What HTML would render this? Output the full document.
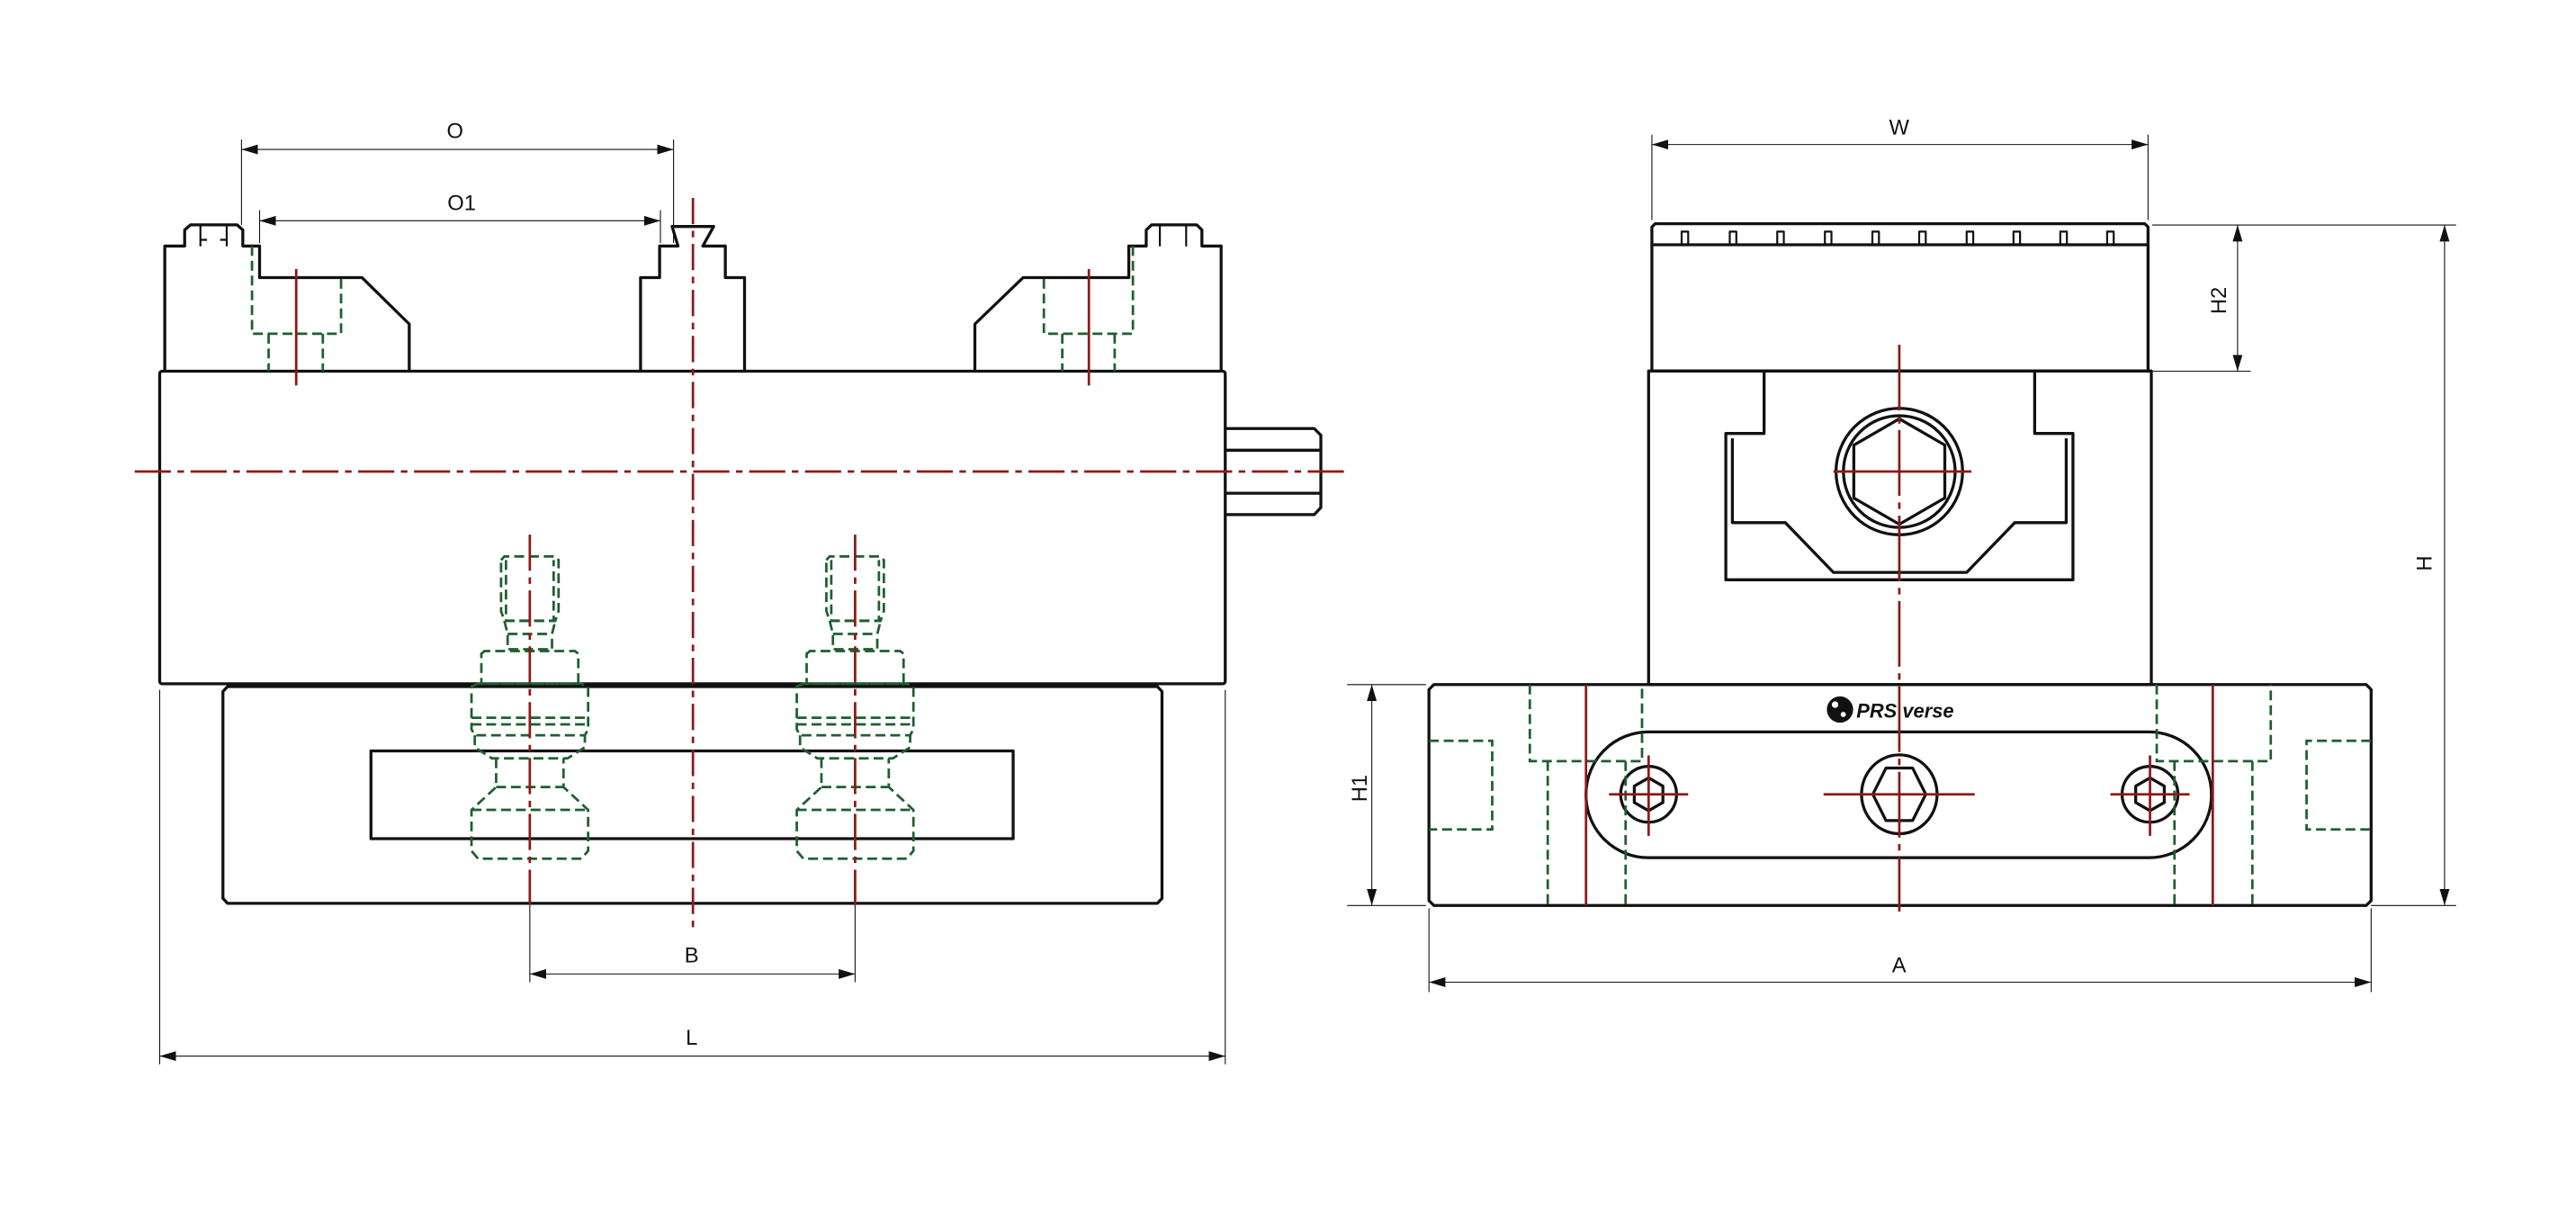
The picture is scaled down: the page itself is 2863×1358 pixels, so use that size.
<!DOCTYPE html>
<html><head><meta charset="utf-8"><style>
html,body{margin:0;padding:0;background:#fff;}
svg{display:block;}
text{font-family:"Liberation Sans",sans-serif;font-size:13px;fill:#111;}
</style></head><body>
<svg width="2863" height="1358" viewBox="0 0 1568 744" preserveAspectRatio="none" xmlns="http://www.w3.org/2000/svg">
<defs>
<marker id="a" viewBox="0 0 10 6" refX="10" refY="3" markerWidth="10" markerHeight="6" orient="auto" markerUnits="userSpaceOnUse"><path d="M0,0 L10,3 L0,6z" fill="#111"/></marker>
<marker id="as" viewBox="0 0 10 6" refX="0" refY="3" markerWidth="10" markerHeight="6" orient="auto" markerUnits="userSpaceOnUse"><path d="M10,0 L0,3 L10,6z" fill="#111"/></marker>
</defs>
<rect width="1568" height="744" fill="#fff"/>
<g fill="none" stroke="#111" stroke-width="1.8" stroke-linejoin="round">
<path d="M100.3,226 V149.8 H112.4 V140 L116,136.9 H144.3 L147.8,140 V149.8 H158 V169 H220.3 L249.1,197.3 V226"/>
<path d="M122,137 V150 M138,137 V150 M122,146 H126 M134,146 H138" stroke-width="1.2"/>
<path d="M389.9,226 V169 H401.5 V149.8 H412.7 L409.1,137.9 H434.4 L427.8,149.8 H441.5 V169 H453.2 V226"/>
<path d="M593.4,226 V197.3 L622.8,169 H687.1 V149.8 H697.7 V140 L701,136.9 H728.5 L731.6,140 V149.8 H743.3 V226"/>
<path d="M706,137 V150 M722,137 V150" stroke-width="1.2"/>
<rect x="97.2" y="226" width="648.6" height="190.3" rx="1.5"/>
<path d="M745.8,260.9 H800 L804,265 V309 L800,313.3 H745.8 M745.8,274.1 H804 M745.8,300.3 H804"/>
<path d="M138.5,418 H704.5 L707.3,421 V547 L704.5,550 H138.5 L135.7,547 V421Z"/>
<rect x="225.8" y="457.2" width="390.9" height="53.4"/>
<path d="M1007.5,136.2 H1305.5 L1307.5,138.2 V225.9 H1005.5 V138.2Z"/>
<path d="M1005.5,149 H1307.5"/>
<g stroke-width="1.2">
<path d="M1023.6,149 V141 H1027.6 V149 M1052.9,149 V141 H1056.9 V149 M1081.8,149 V141 H1085.8 V149 M1110.8,149 V141 H1114.8 V149 M1139.7,149 V141 H1143.7 V149 M1168.2,149 V141 H1172.2 V149 M1197.1,149 V141 H1201.1 V149 M1225.6,149 V141 H1229.6 V149 M1254.1,149 V141 H1258.1 V149 M1282.6,149 V141 H1286.6 V149"/>
</g>
<rect x="1003.5" y="225.9" width="306" height="190.9"/>
<path d="M1073.8,225.9 V263.9 H1050.5 V353 H1261.8 V263.9 H1238.5 V225.9"/>
<path d="M1054.5,266.9 V318.2 H1086.7 L1116,348.5 H1197.1 L1226.4,318.2 H1257.7 V266.9"/>
<circle cx="1156.1" cy="287.1" r="38.5"/>
<circle cx="1156.1" cy="287.1" r="34"/>
<polygon points="1156.1,255 1183.8,271 1183.8,303.2 1156.1,319.2 1128.4,303.2 1128.4,271"/>
<path d="M872.8,416.8 H1440.3 L1443.3,419.8 V548.3 L1440.3,551.3 H872.8 L869.8,548.3 V419.8Z"/>
<rect x="965.4" y="445.6" width="380.7" height="76.6" rx="38"/>
<circle cx="1003.5" cy="483.6" r="17"/>
<polygon points="1003.5,473.6 1012.2,478.6 1012.2,488.6 1003.5,493.6 994.8,488.6 994.8,478.6"/>
<circle cx="1308.7" cy="483.6" r="17"/>
<polygon points="1308.7,473.6 1317.4,478.6 1317.4,488.6 1308.7,493.6 1300,488.6 1300,478.6"/>
<ellipse cx="1156.1" cy="483.6" rx="23" ry="24"/>
<polygon points="1148,467.6 1164.2,467.6 1172.2,483.6 1164.2,499.6 1148,499.6 1140,483.6"/>
</g>
<g fill="none" stroke="#1f5f2f" stroke-width="1.5" stroke-dasharray="6,3">
<path d="M153.4,149.8 V203.2 H207.6 V169 M163.5,203.2 V226 M196.5,203.2 V226"/>
<path d="M689.6,149.8 V203.2 H635.4 V169 M646.6,203.2 V226 M678.5,203.2 V226"/>
<g id="stud">
<path d="M305,341 L307,338.8 H338 L340,341 V372 L338,378 H307 L305,372Z"/>
<path d="M308,341 V377.9 H337 V341"/>
<path d="M307,378 L309,386 V395.3 H336 V386 L338,378 M309,386 H336"/>
<path d="M293,398 L295,396.4 H350 L352,398 V416.3 H293Z"/>
<path d="M287,418 L291,416.3 H354 L358,418 V444 L356,447.7 H289 L287,444Z"/>
<path d="M287,437 H358 M287,441 H358"/>
<path d="M289,447.7 V455 L299.5,461.7 H345.5 L356,455 V447.7"/>
<path d="M302,461.7 V479.2 L287,493.1 V518 L291,522.8 H354 L358,518 V493.1 L343,479.2 V461.7 M302,479.2 H343 M287,493.1 H358"/>
</g>
<use href="#stud" x="198"/>
<path d="M931.2,416.8 V463.4 H999.5 V416.8 M942.1,463.4 V551.3 M989.5,463.4 V551.3"/>
<path d="M1312.8,416.8 V463.4 H1382.2 V416.8 M1323.6,463.4 V551.3 M1371,463.4 V551.3"/>
<path d="M869.8,451 H908.3 V505 H869.8"/>
<path d="M1443.3,451 H1404 V505 H1443.3"/>
</g>
<g fill="none" stroke="#8b1a1a" stroke-width="1.5">
<path d="M82,287.1 H820" stroke-dasharray="22,4,4,4"/>
<path d="M421.8,120.5 V564.7" stroke-dasharray="16,4,4,4"/>
<path d="M180.3,163.8 V234.7 M662.8,163.8 V234.7"/>
<path d="M322.5,325.5 V551 M520.5,325.5 V551" stroke-dasharray="22,4,4,4"/>
<path d="M1156.1,209.9 V555" stroke-dasharray="40,4,4,4"/>
<path d="M1116,287.1 H1200"/>
<path d="M965.4,416.8 V551.3 M1346.9,416.8 V551.3"/>
<path d="M979.4,483.6 H1027.6 M1003.5,459.9 V508.9 M1284.6,483.6 H1332.8 M1308.7,459.9 V508.9 M1110,483.6 H1202"/>
</g>
<circle cx="1120" cy="432" r="8" fill="#111"/>
<circle cx="1117" cy="429" r="2" fill="#fff"/><circle cx="1122" cy="435" r="1.6" fill="#fff"/>
<text x="1130" y="437" style="font-size:12px;font-weight:bold;font-style:italic">PRS verse</text>
<g fill="none" stroke="#111" stroke-width="0.6">
<path d="M147,85 V137 M410,85 V148 M158,128 V148 M402,128 V148 M322.5,551 V598 M520.5,551 V598 M97.2,420 V648 M745.8,420 V648"/>
<path d="M1005.5,82 V134 M1307.5,82 V134 M1310,137 H1495 M1310,226 H1370 M1443.3,551.3 H1495 M820,416.8 H868 M820,551.3 H868 M869.8,553 V604 M1443.3,553 V604"/>
</g>
<g fill="none" stroke="#111" stroke-width="0.6" marker-start="url(#as)" marker-end="url(#a)">
<path d="M147,91 H410"/>
<path d="M158,134.4 H402"/>
<path d="M322.5,593 H520.5"/>
<path d="M97.2,643 H745.8"/>
<path d="M1005.5,88 H1307.5"/>
<path d="M1362,137 V226"/>
<path d="M1488,137 V551.3"/>
<path d="M835,416.8 V551.3"/>
<path d="M869.8,598 H1443.3"/>
</g>
<text x="277" y="84" text-anchor="middle">O</text>
<text x="281" y="128" text-anchor="middle">O1</text>
<text x="421" y="586" text-anchor="middle">B</text>
<text x="421" y="636" text-anchor="middle">L</text>
<text x="1156" y="82" text-anchor="middle">W</text>
<text x="1156" y="592" text-anchor="middle">A</text>
<text transform="translate(1355,183) rotate(-90)" text-anchor="middle">H2</text>
<text transform="translate(1480,343) rotate(-90)" text-anchor="middle">H</text>
<text transform="translate(832,480) rotate(-90)" text-anchor="middle">H1</text>
</svg>
</body></html>
